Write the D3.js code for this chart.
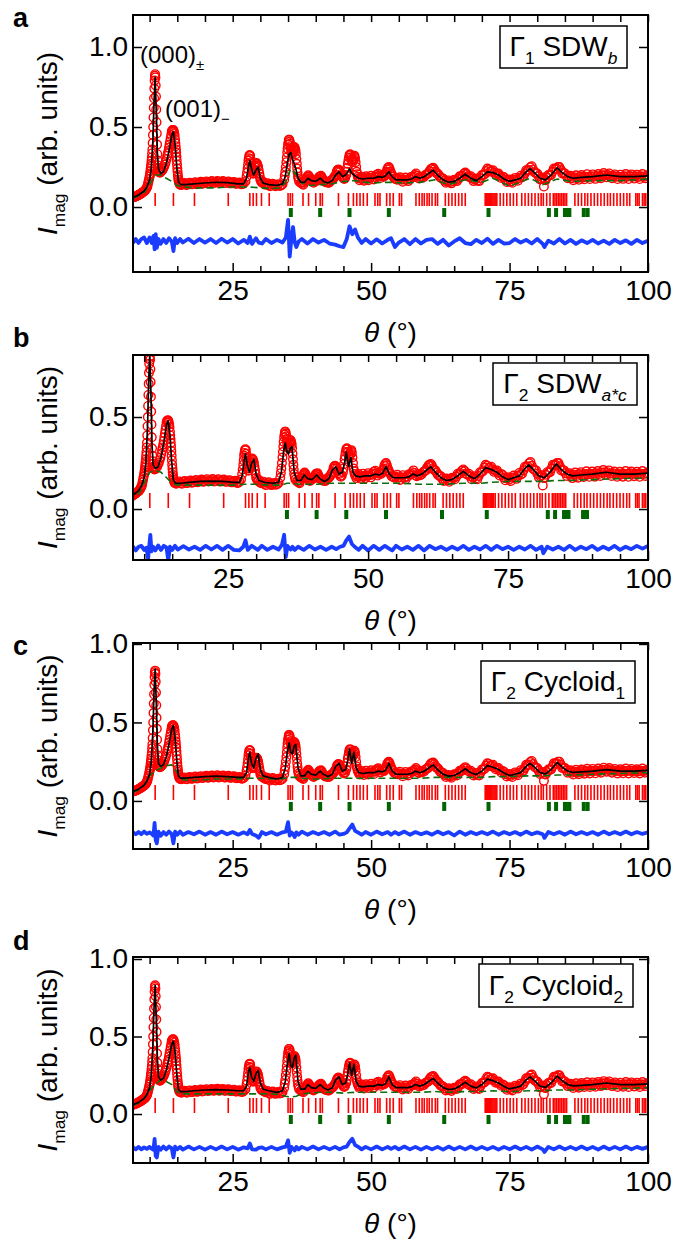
<!DOCTYPE html>
<html>
<head>
<meta charset="utf-8">
<script src="https://cdn.jsdelivr.net/npm/d3@7"></script>
<style>
  body { margin: 0; background: #fff; }
  svg text { font-family: "Liberation Sans", Arial, Helvetica, sans-serif; fill: #000; }
</style>
</head>
<body>
<div id="chart"></div>
<script>
// observed intensity (same measurement in every panel), [theta, I]
const obsPts = [
  [7.0,0.06],[7.3,0.063],[7.6,0.068],[7.9,0.073],[8.2,0.079],[8.5,0.085],[8.8,0.093],[9.1,0.1],[9.4,0.115],[9.6,0.13],[9.8,0.16],
  [10.0,0.19],[10.1,0.21],[10.2,0.24],[10.3,0.27],[10.4,0.31],[10.5,0.36],[10.55,0.4],[10.6,0.45],[10.65,0.5],[10.7,0.56],
  [10.75,0.62],[10.8,0.68],[10.85,0.74],[10.9,0.79],[10.95,0.82],[11.0,0.83],[11.05,0.81],[11.1,0.76],[11.15,0.69],[11.2,0.61],
  [11.25,0.53],[11.3,0.46],[11.35,0.39],[11.4,0.33],[11.45,0.29],[11.5,0.26],[11.6,0.23],[11.7,0.22],[11.85,0.215],[12.0,0.22],
  [12.3,0.23],[12.6,0.25],[12.9,0.28],[13.2,0.32],[13.4,0.35],[13.6,0.39],[13.8,0.43],[14.0,0.47],[14.15,0.48],[14.3,0.48],
  [14.45,0.46],[14.6,0.42],[14.7,0.38],[14.8,0.34],[14.9,0.29],[15.0,0.24],[15.1,0.2],[15.2,0.17],[15.35,0.15],[15.5,0.14],
  [15.75,0.138],[16.0,0.145],[16.5,0.14],[17.0,0.148],[17.5,0.142],[18.0,0.15],[18.5,0.143],[19.0,0.152],[19.5,0.146],[20.0,0.155],
  [20.5,0.148],[21.0,0.157],[21.5,0.15],[22.0,0.158],[22.5,0.15],[23.0,0.158],[23.5,0.15],[24.0,0.156],[24.5,0.148],[25.0,0.154],
  [25.5,0.146],[26.0,0.15],[26.5,0.143],[27.0,0.148],[27.3,0.16],[27.5,0.19],[27.7,0.24],[27.85,0.29],[28.0,0.32],[28.15,0.32],
  [28.3,0.28],[28.45,0.23],[28.6,0.21],[28.8,0.22],[29.0,0.25],[29.2,0.27],[29.4,0.27],[29.6,0.25],[29.8,0.21],[30.0,0.17],
  [30.3,0.152],[30.7,0.145],[31.1,0.142],[31.5,0.136],[32.0,0.142],[32.5,0.134],[33.0,0.138],[33.5,0.132],[34.0,0.142],[34.3,0.17],
  [34.5,0.22],[34.7,0.28],[34.85,0.34],[35.0,0.39],[35.15,0.42],[35.3,0.41],[35.45,0.38],[35.6,0.34],[35.75,0.33],[35.9,0.35],
  [36.05,0.37],[36.2,0.37],[36.35,0.35],[36.5,0.3],[36.65,0.24],[36.8,0.19],[37.0,0.16],[37.3,0.15],[37.6,0.145],[37.9,0.155],
  [38.2,0.17],[38.5,0.19],[38.8,0.19],[39.1,0.172],[39.4,0.16],[39.8,0.158],[40.2,0.165],[40.5,0.18],[40.8,0.19],[41.1,0.185],
  [41.4,0.165],[41.8,0.155],[42.2,0.152],[42.6,0.16],[43.0,0.17],[43.4,0.19],[43.8,0.22],[44.1,0.235],[44.4,0.22],[44.7,0.195],
  [45.0,0.18],[45.3,0.182],[45.6,0.22],[45.8,0.27],[46.0,0.31],[46.2,0.33],[46.4,0.31],[46.6,0.28],[46.8,0.3],[47.0,0.32],
  [47.2,0.28],[47.4,0.22],[47.6,0.19],[47.9,0.168],[48.3,0.19],[48.7,0.165],[49.1,0.192],[49.5,0.168],[50.0,0.195],[50.5,0.172],
  [51.0,0.202],[51.3,0.208],[51.7,0.182],[52.1,0.196],[52.5,0.198],[52.9,0.235],[53.2,0.25],[53.5,0.222],[53.8,0.2],[54.2,0.178],
  [54.7,0.17],[55.2,0.186],[55.7,0.158],[56.2,0.184],[56.7,0.162],[57.2,0.188],[57.7,0.19],[58.1,0.21],[58.5,0.182],[58.9,0.186],
  [59.3,0.184],[59.8,0.2],[60.3,0.21],[60.8,0.238],[61.2,0.245],[61.6,0.222],[62.0,0.21],[62.5,0.185],[63.0,0.178],[63.5,0.152],
  [64.0,0.166],[64.5,0.148],[65.0,0.17],[65.5,0.162],[66.0,0.192],[66.5,0.195],[67.0,0.215],[67.5,0.192],[68.0,0.192],[68.5,0.162],
  [69.0,0.178],[69.5,0.162],[70.0,0.2],[70.5,0.205],[71.0,0.24],[71.5,0.222],[72.0,0.23],[72.5,0.202],[73.0,0.21],[73.5,0.182],
  [74.0,0.186],[74.5,0.156],[75.0,0.172],[75.5,0.152],[76.0,0.182],[76.5,0.164],[77.0,0.196],[77.5,0.192],[78.0,0.23],[78.5,0.232],
  [79.0,0.255],[79.5,0.218],[80.0,0.21],[80.5,0.172],[81.0,0.184],[81.2,0.128],[81.5,0.168],[82.0,0.2],[82.5,0.2],[83.0,0.24],
  [83.5,0.24],[84.0,0.25],[84.5,0.21],[85.0,0.21],[85.5,0.18],[86.0,0.195],[86.5,0.168],[87.0,0.198],[87.5,0.17],[88.0,0.2],
  [88.5,0.174],[89.0,0.205],[89.5,0.175],[90.0,0.204],[90.5,0.176],[91.0,0.206],[91.5,0.18],[92.0,0.212],[92.5,0.186],[93.0,0.21],
  [93.5,0.18],[94.0,0.204],[94.5,0.175],[95.0,0.202],[95.5,0.176],[96.0,0.206],[96.5,0.175],[97.0,0.204],[97.5,0.178],[98.0,0.202],
  [98.5,0.175],[99.0,0.206],[99.5,0.18],[100.0,0.2],
  // in-between readings
  [7.15,0.062],[7.45,0.066],[7.75,0.07],[8.05,0.076],[8.35,0.082],[8.65,0.09],[8.95,0.097],[9.25,0.107],[9.5,0.122],[9.7,0.145],
  [9.9,0.175],[10.05,0.2],[10.15,0.225],[10.25,0.255],[10.35,0.29],[10.45,0.335],[11.55,0.245],[11.65,0.225],[11.78,0.218],[11.92,0.216],
  [12.15,0.225],[12.45,0.24],[12.75,0.265],[13.05,0.3],[13.3,0.335],[13.5,0.37],[13.7,0.41],[13.9,0.45],[14.08,0.478],[14.22,0.482],
  [14.38,0.47],[14.52,0.445],[14.65,0.4],[14.75,0.36],[14.85,0.315],[14.95,0.265],[15.05,0.22],[15.15,0.185],[15.27,0.16],[15.42,0.145],
  [15.62,0.14],[16.25,0.15],[16.75,0.138],[17.25,0.152],[17.75,0.142],[18.25,0.155],[18.75,0.145],[19.25,0.158],[19.75,0.148],[20.25,0.16],
  [20.75,0.15],[21.25,0.162],[21.75,0.152],[22.25,0.163],[22.75,0.152],[23.25,0.162],[23.75,0.15],[24.25,0.16],[24.75,0.148],[25.25,0.157],
  [25.75,0.145],[26.25,0.153],[26.75,0.142],[27.6,0.215],[27.78,0.265],[27.92,0.305],[28.08,0.325],[28.22,0.3],[28.38,0.255],[28.52,0.22],
  [28.7,0.21],[28.9,0.235],[29.1,0.26],[29.3,0.275],[29.5,0.26],[29.7,0.23],[29.9,0.19],[30.15,0.16],[30.5,0.158],[30.9,0.14],
  [31.3,0.148],[31.75,0.13],[32.25,0.146],[32.75,0.13],[33.25,0.142],[33.75,0.135],[34.4,0.195],[34.6,0.25],[34.78,0.31],[34.92,0.365],
  [35.08,0.405],[35.22,0.42],[35.38,0.395],[35.52,0.36],[35.68,0.335],[35.82,0.34],[35.98,0.36],[36.12,0.375],[36.28,0.36],[36.42,0.33],
  [36.58,0.27],[36.72,0.215],[36.9,0.175],[37.45,0.155],[37.75,0.14],[38.05,0.165],[38.35,0.18],[38.65,0.198],[38.95,0.18],[39.25,0.168],
  [39.6,0.152],[40.0,0.168],[40.35,0.172],[40.65,0.19],[40.95,0.195],[41.25,0.175],[41.6,0.16],[42.0,0.158],[42.4,0.152],[42.8,0.168],
  [43.2,0.178],[43.6,0.2],[43.9,0.228],[44.0,0.232],[44.25,0.23],[44.55,0.205],[44.85,0.19],[45.15,0.175],[45.5,0.2],[45.7,0.245],
  [45.9,0.29],[46.1,0.325],[46.3,0.325],[46.5,0.295],[46.7,0.29],[46.9,0.315],[47.1,0.305],[47.3,0.25],[47.5,0.205],[47.75,0.18],
  [48.1,0.178],[48.5,0.176],[48.9,0.18],[49.3,0.178],[49.75,0.182],[50.25,0.184],[50.75,0.186],[51.15,0.192],[51.5,0.196],[51.9,0.192],
  [52.3,0.19],[52.7,0.212],[52.8,0.22],[53.05,0.245],[53.35,0.238],[53.65,0.21],[54.0,0.19],[54.45,0.175],[54.95,0.176],[55.45,0.17],
  [55.95,0.172],[56.45,0.17],[56.95,0.176],[57.45,0.185],[57.9,0.2],[58.3,0.196],[58.7,0.178],[59.1,0.19],[59.55,0.188],[60.05,0.205],
  [60.55,0.225],[61.0,0.24],[61.4,0.235],[61.8,0.212],[62.25,0.198],[62.75,0.18],[63.25,0.165],[63.75,0.16],[64.25,0.156],[64.75,0.16],
  [65.25,0.168],[65.75,0.176],[66.25,0.19],[66.75,0.208],[67.25,0.206],[67.75,0.186],[68.25,0.178],[68.75,0.17],[69.25,0.166],[69.75,0.18],
  [70.25,0.2],[70.75,0.225],[71.25,0.235],[71.75,0.226],[72.25,0.215],[72.75,0.208],[73.25,0.196],[73.75,0.19],[74.25,0.17],[74.75,0.166],
  [75.25,0.16],[75.75,0.17],[76.25,0.172],[76.75,0.182],[77.25,0.186],[77.75,0.21],[78.25,0.228],[78.75,0.248],[79.25,0.235],[79.75,0.212],
  [80.25,0.192],[80.75,0.178],[81.35,0.17],[81.75,0.186],[82.25,0.198],[82.75,0.22],[83.25,0.238],[83.75,0.25],[84.25,0.232],[84.75,0.212],
  [85.25,0.195],[85.75,0.19],[86.25,0.18],[86.75,0.186],[87.25,0.18],[87.75,0.19],[88.25,0.185],[88.75,0.19],[89.25,0.188],[89.75,0.192],
  [90.25,0.19],[90.75,0.194],[91.25,0.19],[91.75,0.198],[92.25,0.198],[92.75,0.2],[93.25,0.192],[93.75,0.194],[94.25,0.19],[94.75,0.19],
  [95.25,0.188],[95.75,0.192],[96.25,0.19],[96.75,0.194],[97.25,0.19],[97.75,0.192],[98.25,0.188],[98.75,0.192],[99.25,0.19],[99.75,0.194]
];

// calculated profile (black line), one array per model
const calcTheta = [
  7, 8, 9, 9.5, 10, 10.3, 10.6, 10.8, 11, 11.2,
  11.4, 11.6, 12, 12.5, 13, 13.5, 14, 14.3, 14.6, 14.9,
  15.2, 15.6, 16.5, 18, 20, 22, 24, 26, 27, 27.5,
  27.9, 28.1, 28.4, 28.8, 29.2, 29.6, 30, 30.5, 31.5, 33,
  34, 34.5, 34.9, 35.2, 35.5, 35.8, 36.1, 36.4, 36.8, 37.3,
  38, 38.6, 39.2, 40, 40.8, 41.4, 42.2, 43, 43.6, 44.2,
  44.8, 45.4, 45.8, 46.1, 46.5, 46.9, 47.3, 47.8, 48.5, 49.5,
  50.5, 51.3, 52, 52.6, 53.2, 53.8, 54.5, 55.5, 56.5, 57.3,
  58, 58.8, 59.6, 60.4, 61.2, 62, 63, 64, 65, 66,
  67, 68, 69, 70, 71, 72, 73, 74, 75, 76,
  77, 78, 78.7, 79.5, 80.5, 81.5, 82.5, 83.6, 84.5, 85.5,
  86.5, 88, 90, 92.5, 95, 97.5, 100
];
const calcA = [
  0.06, 0.075, 0.1, 0.125, 0.17, 0.24, 0.42, 0.66, 0.81, 0.6,
  0.34, 0.24, 0.21, 0.22, 0.27, 0.35, 0.45, 0.47, 0.39, 0.25,
  0.16, 0.14, 0.14, 0.145, 0.15, 0.155, 0.152, 0.145, 0.145, 0.18,
  0.26, 0.29, 0.24, 0.2, 0.23, 0.25, 0.18, 0.15, 0.14, 0.135,
  0.145, 0.19, 0.28, 0.33, 0.34, 0.3, 0.27, 0.24, 0.18, 0.155,
  0.155, 0.18, 0.165, 0.16, 0.18, 0.16, 0.15, 0.165, 0.2, 0.22,
  0.19, 0.2, 0.22, 0.24, 0.21, 0.2, 0.19, 0.18, 0.175, 0.18,
  0.18, 0.19, 0.185, 0.195, 0.22, 0.19, 0.17, 0.17, 0.17, 0.175,
  0.19, 0.18, 0.19, 0.21, 0.23, 0.2, 0.17, 0.155, 0.16, 0.18,
  0.205, 0.18, 0.165, 0.19, 0.22, 0.215, 0.2, 0.175, 0.16, 0.17,
  0.18, 0.22, 0.24, 0.215, 0.18, 0.17, 0.2, 0.245, 0.215, 0.19,
  0.18, 0.185, 0.19, 0.2, 0.19, 0.19, 0.195
];
const calcB = [
  0.06, 0.075, 0.1, 0.125, 0.17, 0.25, 0.45, 0.7, 0.84, 0.63,
  0.35, 0.24, 0.22, 0.23, 0.28, 0.36, 0.46, 0.48, 0.4, 0.26,
  0.16, 0.14, 0.14, 0.145, 0.15, 0.152, 0.15, 0.145, 0.145, 0.18,
  0.27, 0.3, 0.24, 0.2, 0.25, 0.27, 0.19, 0.155, 0.145, 0.14,
  0.145, 0.2, 0.31, 0.36, 0.31, 0.3, 0.33, 0.34, 0.2, 0.155,
  0.155, 0.185, 0.165, 0.16, 0.185, 0.165, 0.15, 0.165, 0.21, 0.23,
  0.19, 0.2, 0.25, 0.31, 0.23, 0.28, 0.2, 0.18, 0.175, 0.18,
  0.18, 0.19, 0.185, 0.195, 0.23, 0.19, 0.17, 0.17, 0.17, 0.175,
  0.19, 0.18, 0.19, 0.21, 0.23, 0.2, 0.17, 0.155, 0.16, 0.18,
  0.205, 0.18, 0.165, 0.19, 0.225, 0.215, 0.2, 0.175, 0.16, 0.17,
  0.18, 0.22, 0.24, 0.215, 0.18, 0.17, 0.2, 0.245, 0.215, 0.19,
  0.18, 0.185, 0.19, 0.2, 0.19, 0.19, 0.195
];
const calcC = [
  0.06, 0.075, 0.1, 0.125, 0.17, 0.25, 0.45, 0.7, 0.84, 0.63,
  0.36, 0.24, 0.22, 0.23, 0.28, 0.36, 0.46, 0.48, 0.4, 0.26,
  0.16, 0.145, 0.145, 0.15, 0.155, 0.158, 0.155, 0.15, 0.15, 0.18,
  0.28, 0.31, 0.24, 0.21, 0.27, 0.3, 0.2, 0.16, 0.15, 0.14,
  0.15, 0.21, 0.32, 0.37, 0.31, 0.3, 0.35, 0.36, 0.21, 0.16,
  0.16, 0.19, 0.17, 0.165, 0.19, 0.17, 0.155, 0.17, 0.22, 0.24,
  0.19, 0.2, 0.26, 0.33, 0.24, 0.31, 0.21, 0.18, 0.175, 0.18,
  0.18, 0.19, 0.185, 0.195, 0.24, 0.19, 0.17, 0.17, 0.17, 0.175,
  0.19, 0.18, 0.19, 0.21, 0.23, 0.2, 0.17, 0.158, 0.162, 0.18,
  0.205, 0.18, 0.168, 0.19, 0.225, 0.215, 0.2, 0.178, 0.162, 0.17,
  0.18, 0.22, 0.24, 0.215, 0.18, 0.172, 0.2, 0.245, 0.215, 0.19,
  0.182, 0.185, 0.19, 0.2, 0.19, 0.19, 0.195
];
const calcD = [
  0.06, 0.075, 0.1, 0.125, 0.17, 0.25, 0.45, 0.69, 0.83, 0.62,
  0.36, 0.24, 0.22, 0.23, 0.28, 0.36, 0.45, 0.47, 0.4, 0.26,
  0.16, 0.145, 0.145, 0.15, 0.155, 0.158, 0.155, 0.15, 0.15, 0.18,
  0.28, 0.3, 0.24, 0.21, 0.26, 0.28, 0.2, 0.16, 0.15, 0.14,
  0.15, 0.21, 0.33, 0.39, 0.31, 0.3, 0.36, 0.38, 0.21, 0.16,
  0.16, 0.19, 0.17, 0.165, 0.19, 0.17, 0.155, 0.17, 0.22, 0.24,
  0.19, 0.2, 0.26, 0.33, 0.25, 0.32, 0.21, 0.18, 0.175, 0.18,
  0.18, 0.19, 0.185, 0.195, 0.24, 0.19, 0.17, 0.17, 0.17, 0.175,
  0.19, 0.18, 0.19, 0.21, 0.23, 0.2, 0.17, 0.158, 0.162, 0.18,
  0.205, 0.18, 0.168, 0.19, 0.225, 0.215, 0.2, 0.178, 0.162, 0.17,
  0.18, 0.22, 0.24, 0.215, 0.18, 0.172, 0.2, 0.245, 0.215, 0.19,
  0.182, 0.185, 0.19, 0.2, 0.19, 0.19, 0.195
];

// background (green dashed)
const bgTheta = [
  7, 8, 9, 10, 11, 12, 13, 14, 15, 16,
  18, 20, 22, 24, 26, 28, 30, 32, 33.5, 34.5,
  35.5, 36.5, 37.5, 39, 41, 43, 45, 47, 50, 53,
  56, 59, 61.5, 64, 67, 70, 72, 75, 78.7, 81,
  83.6, 86, 90, 95, 100
];
const bgA = [
  0.055, 0.07, 0.09, 0.14, 0.2, 0.2, 0.18, 0.16, 0.135, 0.125,
  0.12, 0.12, 0.12, 0.125, 0.125, 0.125, 0.12, 0.115, 0.12, 0.15,
  0.24, 0.2, 0.15, 0.135, 0.14, 0.145, 0.16, 0.165, 0.15, 0.155,
  0.15, 0.155, 0.17, 0.14, 0.17, 0.155, 0.18, 0.13, 0.18, 0.14,
  0.175, 0.16, 0.165, 0.165, 0.175
];
const bgB = [
  0.055, 0.065, 0.08, 0.14, 0.2, 0.21, 0.2, 0.17, 0.14, 0.13,
  0.13, 0.13, 0.13, 0.13, 0.13, 0.135, 0.135, 0.13, 0.13, 0.13,
  0.14, 0.14, 0.135, 0.135, 0.135, 0.14, 0.14, 0.14, 0.14, 0.14,
  0.14, 0.135, 0.135, 0.135, 0.14, 0.14, 0.145, 0.15, 0.15, 0.15,
  0.155, 0.155, 0.16, 0.165, 0.17
];
const bgC = [
  0.055, 0.07, 0.1, 0.16, 0.19, 0.21, 0.225, 0.23, 0.18, 0.135,
  0.13, 0.135, 0.14, 0.14, 0.14, 0.145, 0.145, 0.14, 0.14, 0.145,
  0.15, 0.15, 0.145, 0.14, 0.14, 0.145, 0.145, 0.145, 0.145, 0.145,
  0.145, 0.145, 0.15, 0.15, 0.15, 0.15, 0.155, 0.155, 0.16, 0.16,
  0.165, 0.165, 0.17, 0.175, 0.18
];
const bgD = [
  0.055, 0.07, 0.1, 0.15, 0.19, 0.22, 0.21, 0.19, 0.14, 0.13,
  0.13, 0.13, 0.13, 0.13, 0.13, 0.13, 0.13, 0.13, 0.125, 0.115,
  0.11, 0.115, 0.13, 0.135, 0.14, 0.14, 0.135, 0.14, 0.14, 0.14,
  0.14, 0.14, 0.145, 0.14, 0.145, 0.145, 0.15, 0.145, 0.15, 0.15,
  0.155, 0.155, 0.16, 0.165, 0.17
];

// difference curve (blue, already offset)
const diffTheta = [
  7, 7.5, 8, 8.5, 9, 9.5, 10, 10.4, 10.7, 10.9,
  11.1, 11.3, 11.6, 12, 12.5, 13, 13.5, 14, 14.3, 14.6,
  15, 15.5, 16, 17, 18, 19, 20, 21, 22, 23,
  24, 25, 26, 27, 27.7, 28.1, 28.5, 29.2, 29.7, 30.3,
  31, 32, 33, 34, 34.6, 35, 35.3, 35.6, 35.9, 36.2,
  36.5, 36.9, 37.5, 38.5, 39.5, 40.5, 41.5, 42.5, 43.5, 44.3,
  45, 45.6, 46.1, 46.6, 47.1, 47.6, 48.3, 49, 50, 51,
  52, 53, 53.6, 54.3, 55, 56, 57, 58, 59, 60,
  61, 62, 63, 64, 65, 66, 67, 68, 69, 70,
  71, 72, 73, 74, 75, 76, 77, 78, 79, 80,
  81, 81.3, 82, 83, 84, 85, 86, 87, 88, 89,
  90, 91, 92, 93, 94, 95, 96, 97, 98, 99,
  100
];
const diffA = [
  -0.225, -0.2, -0.225, -0.2, -0.19, -0.225, -0.19, -0.225, -0.18, -0.265,
  -0.17, -0.255, -0.2, -0.23, -0.2, -0.225, -0.195, -0.215, -0.275, -0.195,
  -0.225, -0.2, -0.222, -0.198, -0.225, -0.2, -0.222, -0.2, -0.225, -0.198,
  -0.222, -0.2, -0.228, -0.205, -0.225, -0.185, -0.23, -0.195, -0.222, -0.228,
  -0.2, -0.225, -0.205, -0.222, -0.19, -0.08, -0.31, -0.2, -0.125, -0.22,
  -0.25, -0.215, -0.2, -0.228, -0.2, -0.222, -0.205, -0.228, -0.235, -0.245,
  -0.25, -0.2, -0.12, -0.17, -0.14, -0.19, -0.225, -0.2, -0.228, -0.202,
  -0.228, -0.205, -0.195, -0.25, -0.222, -0.2, -0.232, -0.2, -0.228, -0.205,
  -0.2, -0.23, -0.205, -0.24, -0.215, -0.195, -0.225, -0.232, -0.205, -0.225,
  -0.198, -0.23, -0.205, -0.228, -0.225, -0.2, -0.222, -0.205, -0.228, -0.2,
  -0.23, -0.25, -0.21, -0.228, -0.2, -0.228, -0.205, -0.23, -0.208, -0.225,
  -0.205, -0.228, -0.21, -0.23, -0.205, -0.225, -0.208, -0.23, -0.205, -0.225,
  -0.21
];
const diffB = [
  -0.2, -0.222, -0.205, -0.225, -0.205, -0.2, -0.222, -0.21, -0.27, -0.2,
  -0.14, -0.23, -0.205, -0.225, -0.198, -0.222, -0.2, -0.21, -0.28, -0.205,
  -0.222, -0.2, -0.22, -0.202, -0.22, -0.205, -0.222, -0.2, -0.22, -0.2,
  -0.222, -0.2, -0.222, -0.225, -0.205, -0.17, -0.222, -0.2, -0.21, -0.222,
  -0.2, -0.222, -0.205, -0.22, -0.195, -0.14, -0.26, -0.2, -0.212, -0.22,
  -0.205, -0.222, -0.205, -0.222, -0.2, -0.22, -0.205, -0.222, -0.205, -0.218,
  -0.205, -0.2, -0.17, -0.15, -0.19, -0.205, -0.222, -0.2, -0.225, -0.2,
  -0.222, -0.2, -0.212, -0.225, -0.2, -0.22, -0.205, -0.222, -0.2, -0.225,
  -0.2, -0.218, -0.205, -0.222, -0.205, -0.22, -0.2, -0.222, -0.205, -0.22,
  -0.2, -0.222, -0.2, -0.218, -0.205, -0.222, -0.205, -0.22, -0.2, -0.222,
  -0.205, -0.24, -0.205, -0.22, -0.205, -0.222, -0.2, -0.222, -0.205, -0.218,
  -0.2, -0.222, -0.205, -0.22, -0.2, -0.222, -0.205, -0.218, -0.2, -0.215,
  -0.2
];
const diffC = [
  -0.2, -0.212, -0.198, -0.212, -0.195, -0.21, -0.2, -0.21, -0.22, -0.14,
  -0.25, -0.27, -0.195, -0.222, -0.198, -0.215, -0.195, -0.212, -0.27, -0.195,
  -0.215, -0.195, -0.215, -0.198, -0.212, -0.195, -0.215, -0.198, -0.215, -0.195,
  -0.212, -0.198, -0.215, -0.2, -0.212, -0.185, -0.21, -0.22, -0.235, -0.198,
  -0.212, -0.198, -0.215, -0.2, -0.195, -0.135, -0.22, -0.2, -0.21, -0.23,
  -0.2, -0.215, -0.195, -0.215, -0.198, -0.212, -0.198, -0.215, -0.195, -0.215,
  -0.21, -0.2, -0.175, -0.15, -0.19, -0.2, -0.215, -0.198, -0.215, -0.195,
  -0.212, -0.198, -0.215, -0.198, -0.212, -0.195, -0.215, -0.198, -0.212, -0.2,
  -0.215, -0.195, -0.212, -0.198, -0.22, -0.195, -0.215, -0.198, -0.212, -0.198,
  -0.212, -0.195, -0.215, -0.198, -0.212, -0.198, -0.215, -0.195, -0.212, -0.2,
  -0.212, -0.235, -0.198, -0.212, -0.198, -0.215, -0.195, -0.212, -0.198, -0.212,
  -0.198, -0.215, -0.195, -0.212, -0.198, -0.212, -0.195, -0.212, -0.198, -0.21,
  -0.2
];
const diffD = [
  -0.215, -0.228, -0.212, -0.228, -0.215, -0.225, -0.212, -0.225, -0.23, -0.16,
  -0.27, -0.28, -0.212, -0.23, -0.21, -0.228, -0.21, -0.222, -0.28, -0.21,
  -0.228, -0.212, -0.23, -0.21, -0.228, -0.212, -0.23, -0.212, -0.228, -0.21,
  -0.228, -0.212, -0.23, -0.215, -0.222, -0.19, -0.228, -0.23, -0.218, -0.215,
  -0.228, -0.212, -0.228, -0.215, -0.21, -0.17, -0.25, -0.212, -0.225, -0.235,
  -0.212, -0.228, -0.212, -0.228, -0.21, -0.228, -0.212, -0.228, -0.212, -0.228,
  -0.215, -0.21, -0.18, -0.16, -0.2, -0.21, -0.228, -0.212, -0.228, -0.21,
  -0.228, -0.212, -0.225, -0.212, -0.228, -0.21, -0.228, -0.212, -0.23, -0.212,
  -0.228, -0.212, -0.23, -0.21, -0.228, -0.212, -0.228, -0.21, -0.228, -0.212,
  -0.228, -0.212, -0.23, -0.212, -0.228, -0.21, -0.228, -0.212, -0.23, -0.21,
  -0.228, -0.245, -0.212, -0.228, -0.21, -0.228, -0.212, -0.228, -0.21, -0.228,
  -0.212, -0.23, -0.21, -0.228, -0.212, -0.228, -0.21, -0.228, -0.212, -0.225,
  -0.212
];

// reflection positions: magnetic (red) and second set (green)
const braggRed = [
  11.0, 14.3, 18.1, 24.2, 28.1, 28.7, 29.3, 30.2, 31.6, 35.0, 35.4, 35.8, 37.7, 38.7, 40.0, 40.8, 41.2, 44.1,
  45.9, 46.8, 47.4, 48.0, 48.6, 49.3, 50.7, 51.2, 51.6, 52.8, 53.4, 54.0, 55.1, 55.5,
  58.1, 58.7, 59.2, 59.6, 60.1, 60.5, 61.0, 61.6, 62.0, 63.4, 64.0, 64.6, 65.2, 65.8, 66.4, 67.0,
  70.6, 70.8, 71.0, 71.2, 71.4, 71.6, 71.8, 72.0, 72.2, 72.4, 72.7, 73.3, 73.9, 74.5, 75.1, 75.7, 76.3,
  77.2, 77.8, 78.4, 79.0, 79.6, 80.2, 80.7, 81.1, 81.7, 82.3, 82.9, 83.2, 83.5, 83.8, 84.1, 84.4, 84.7, 85.0, 85.3,
  86.8, 87.4, 88.0, 88.6, 89.1, 89.7, 90.3, 90.9, 91.5, 92.1, 92.7, 93.2, 93.8, 94.4, 95.0, 95.6, 96.2, 96.7,
  97.8, 98.1, 98.4, 99.0, 99.3, 99.6, 100.0
];
const braggGreen = [35.5, 40.8, 46.1, 53.2, 63.2, 71.2, 82.1, 83.4, 85.0, 85.4, 85.8, 88.4, 89.1];

const xMajor = [25, 50, 75, 100];
const xMinor = [10, 15, 20, 30, 35, 40, 45, 55, 60, 65, 70, 80, 85, 90, 95];

const W = 674, H = 1239;
const L = 133, R = 648;
const FS = 28;

const svg = d3.select("#chart").append("svg")
    .attr("width", W)
    .attr("height", H);

// panel layout
const panels = [
    {letter: "a", ly: 27, top: 15, bottom: 272, xDom: [7, 100], yDom: [-0.406, 1.2], yTicks: [0, 0.5, 1],
     calc: calcA, bg: bgA, diff: diffA, tickLen: 13, box: [500, 26, 127, 42],
     legend: [{t: "Γ"}, {t: "1", sub: true}, {t: " SDW"}, {t: "b", sub: true, it: true}]},
    {letter: "b", ly: 347, top: 355, bottom: 560, xDom: [8, 100], yDom: [-0.277, 0.837], yTicks: [0, 0.5],
     calc: calcB, bg: bgB, diff: diffB, tickLen: 15, box: [493, 363, 144, 42],
     legend: [{t: "Γ"}, {t: "2", sub: true}, {t: " SDW"}, {t: "a*c", sub: true, it: true}]},
    {letter: "c", ly: 655, top: 643, bottom: 849, xDom: [7, 100], yDom: [-0.306, 1.006], yTicks: [0, 0.5, 1],
     calc: calcC, bg: bgC, diff: diffC, tickLen: 15, box: [481, 661, 154, 42],
     legend: [{t: "Γ"}, {t: "2", sub: true}, {t: " Cycloid"}, {t: "1", sub: true}]},
    {letter: "d", ly: 950, top: 957, bottom: 1163, xDom: [7, 100], yDom: [-0.316, 1.013], yTicks: [0, 0.5, 1],
     calc: calcD, bg: bgD, diff: diffD, tickLen: 15, box: [479, 964, 154, 43],
     legend: [{t: "Γ"}, {t: "2", sub: true}, {t: " Cycloid"}, {t: "2", sub: true}]}
];

// text with subscripts built from tspans
function richText(sel, parts, fs) {
    let shift = 0;
    parts.forEach(p => {
        const target = p.sub ? fs * 0.3 : 0;
        const ts = sel.append("tspan").text(p.t).attr("dy", target - shift);
        shift = target;
        if (p.sub) ts.attr("font-size", fs * 0.62);
        if (p.it) ts.attr("font-style", "italic");
    });
}

panels.forEach((p, i) => {
    const x = d3.scaleLinear().domain(p.xDom).range([L, R]);
    const y = d3.scaleLinear().domain(p.yDom).range([p.bottom, p.top]);
    const g = svg.append("g");

    g.append("clipPath").attr("id", "clip" + i)
        .append("rect").attr("x", L).attr("y", p.top).attr("width", R - L).attr("height", p.bottom - p.top);
    const plot = g.append("g").attr("clip-path", "url(#clip" + i + ")");

    // reflection ticks
    plot.append("g").selectAll("line").data(braggRed).join("line")
        .attr("x1", d => x(d)).attr("x2", d => x(d))
        .attr("y1", y(0) - 1).attr("y2", y(0) - 1 - p.tickLen)
        .attr("stroke", "#ff0000").attr("stroke-width", 1.6);
    plot.append("g").selectAll("line").data(braggGreen).join("line")
        .attr("x1", d => x(d)).attr("x2", d => x(d))
        .attr("y1", y(0) + 1).attr("y2", y(0) + 10)
        .attr("stroke", "#006400").attr("stroke-width", 4);

    // observed points
    plot.append("g").selectAll("circle").data(obsPts).join("circle")
        .attr("cx", d => x(d[0])).attr("cy", d => y(d[1])).attr("r", 4.3)
        .attr("fill", "none").attr("stroke", "#ff0000").attr("stroke-width", 1.4);

    const line = d3.line().x(d => x(d[0])).y(d => y(d[1]));

    plot.append("path").datum(bgTheta.map((t, k) => [t, p.bg[k]]))
        .attr("d", line).attr("fill", "none")
        .attr("stroke", "#0d6e0d").attr("stroke-width", 1.6).attr("stroke-dasharray", "7,4");

    plot.append("path").datum(calcTheta.map((t, k) => [t, p.calc[k]]))
        .attr("d", line).attr("fill", "none")
        .attr("stroke", "#000").attr("stroke-width", 1.7).attr("stroke-linejoin", "round");

    plot.append("path").datum(diffTheta.map((t, k) => [t, p.diff[k]]))
        .attr("d", line).attr("fill", "none")
        .attr("stroke", "#1a3cff").attr("stroke-width", 3.8).attr("stroke-linejoin", "round");

    // axes, ticks pointing inwards
    const styleAxis = a => {
        a.select(".domain").remove();
        a.selectAll(".tick line").attr("stroke-width", 1.5);
        a.selectAll("text").attr("font-size", FS).attr("font-family", "Liberation Sans, Arial, sans-serif");
    };
    g.append("g").attr("transform", `translate(0,${p.bottom})`)
        .call(d3.axisBottom(x).tickValues(xMajor).tickSizeInner(-9).tickSizeOuter(0).tickPadding(8).tickFormat(d3.format("d")))
        .call(styleAxis);
    g.append("g").attr("transform", `translate(0,${p.bottom})`)
        .call(d3.axisBottom(x).tickValues(xMinor).tickSizeInner(-6).tickSizeOuter(0).tickFormat(""))
        .call(styleAxis);
    g.append("g").attr("transform", `translate(0,${p.top})`)
        .call(d3.axisTop(x).tickValues(xMajor.concat(xMinor)).tickSizeInner(-7).tickSizeOuter(0).tickFormat(""))
        .call(styleAxis);
    g.append("g").attr("transform", `translate(${L},0)`)
        .call(d3.axisLeft(y).tickValues(p.yTicks).tickSizeInner(-9).tickSizeOuter(0).tickPadding(5).tickFormat(d3.format(".1f")))
        .call(styleAxis);
    g.append("g").attr("transform", `translate(${R},0)`)
        .call(d3.axisRight(y).tickValues(p.yTicks).tickSizeInner(-9).tickSizeOuter(0).tickFormat(""))
        .call(styleAxis);

    g.append("rect").attr("x", L).attr("y", p.top).attr("width", R - L).attr("height", p.bottom - p.top)
        .attr("fill", "none").attr("stroke", "#000").attr("stroke-width", 2);

    // legend box
    const [bx, by, bw, bh] = p.box;
    g.append("rect").attr("x", bx).attr("y", by).attr("width", bw).attr("height", bh)
        .attr("fill", "#fff").attr("stroke", "#000").attr("stroke-width", 1.5);
    const lt = g.append("text").attr("x", bx + bw / 2).attr("y", by + bh / 2 + 9)
        .attr("text-anchor", "middle").attr("font-size", FS);
    richText(lt, p.legend, FS);

    // panel letter
    g.append("text").attr("x", 13).attr("y", p.ly).attr("font-size", 27).attr("font-weight", "bold").text(p.letter);

    // y title
    const yt = g.append("text")
        .attr("transform", `translate(57,${(p.top + p.bottom) / 2}) rotate(-90)`)
        .attr("text-anchor", "middle").attr("font-size", FS);
    richText(yt, [{t: "I", it: true}, {t: "mag", sub: true}, {t: " (arb. units)"}], FS);

    // x title
    const xt = g.append("text").attr("x", (L + R) / 2).attr("y", p.bottom + 70)
        .attr("text-anchor", "middle").attr("font-size", FS);
    richText(xt, [{t: "θ", it: true}, {t: " (°)"}], FS);

    // peak labels in the first panel
    if (i === 0) {
        const a1 = g.append("text").attr("x", 140).attr("y", 63).attr("font-size", 24);
        richText(a1, [{t: "(000)"}, {t: "±", sub: true}], 24);
        const a2 = g.append("text").attr("x", 165).attr("y", 117).attr("font-size", 24);
        richText(a2, [{t: "(001)"}, {t: "−", sub: true}], 24);
    }
});
</script>
</body>
</html>
